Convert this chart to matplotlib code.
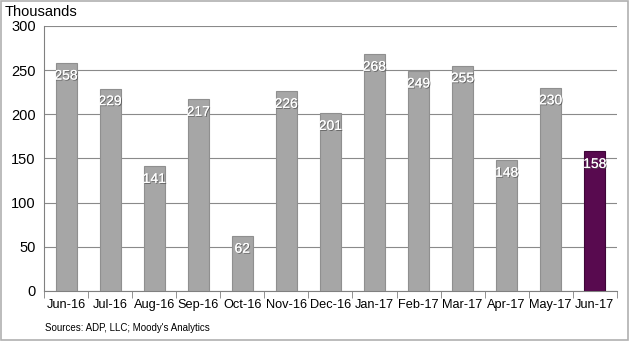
import matplotlib.pyplot as plt
import matplotlib.patheffects as pe
from matplotlib.patches import Rectangle

plt.rcParams['font.family'] = ['Liberation Sans', 'DejaVu Sans']

# ADP monthly job gains, thousands
months = ["Jun-16", "Jul-16", "Aug-16", "Sep-16", "Oct-16", "Nov-16", "Dec-16",
          "Jan-17", "Feb-17", "Mar-17", "Apr-17", "May-17", "Jun-17"]
jobs = [258, 229, 141, 217, 62, 226, 201, 268, 249, 255, 148, 230, 158]
colors = ["#a6a6a6"] * 12 + ["#580a4f"]
edges = ["#8f8f8f"] * 12 + ["#3e0638"]

fig = plt.figure(figsize=(6.3, 3.41), dpi=100)
ax = fig.add_axes([0.070, 0.147, 0.909, 0.777])

x = range(len(months))
bars = ax.bar(x, jobs, width=0.48, color=colors, edgecolor=edges, linewidth=0.8, zorder=3)

for xi, v in zip(x, jobs):
    ax.annotate(str(v), (xi, v), xytext=(0, -4), textcoords="offset points",
                ha="center", va="top", color="white", fontsize=10, zorder=4,
                path_effects=[pe.withSimplePatchShadow(offset=(0.7, -0.7),
                                                       shadow_rgbFace="#555555", alpha=0.8),
                              pe.Normal()])

ax.set_xlim(-0.5, len(months) - 0.5)
ax.set_ylim(0, 300)
ax.set_yticks(range(0, 301, 50))
ax.tick_params(axis="y", length=0, labelsize=10.5, pad=6)
ax.yaxis.grid(True, color="#8a8a8a", linewidth=0.8, zorder=0)

ax.set_xticks(x)
ax.set_xticklabels(months, fontsize=9.2)
ax.set_xticks([i - 0.5 for i in range(len(months) + 1)], minor=True)
ax.tick_params(axis="x", which="major", length=0, pad=6)
ax.tick_params(axis="x", which="minor", length=5, color="#808080", direction="out")

for s in ["top", "right"]:
    ax.spines[s].set_visible(False)
ax.spines["left"].set_color("#808080")
ax.spines["bottom"].set_color("#808080")

fig.text(0.008, 0.965, "Thousands", fontsize=10.5, va="center", ha="left")
fig.text(0.071, 0.038, "Sources: ADP, LLC; Moody's Analytics", fontsize=7, va="center", ha="left")

fig.patches.append(Rectangle((0.002, 0.003), 0.995, 0.994, transform=fig.transFigure,
                             fill=False, edgecolor="#b0b0b0", linewidth=1.2))

fig.savefig("out.png", dpi=100)
